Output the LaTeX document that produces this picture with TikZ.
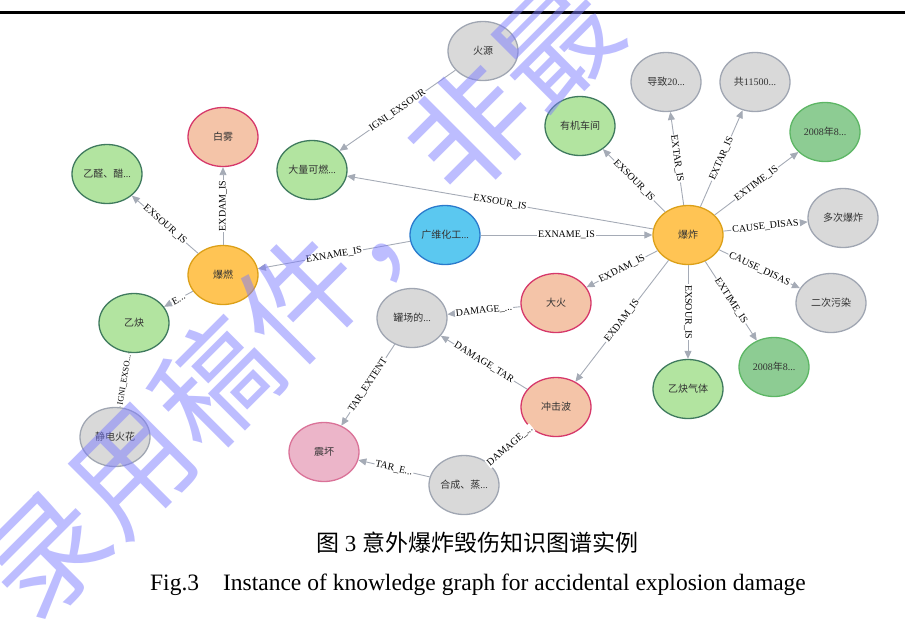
\documentclass[tikz,border=0pt]{standalone}
\usepackage{fontspec}
\setmainfont{Liberation Serif}
\newfontfamily\cjk{Noto Sans CJK SC}
\usetikzlibrary{arrows.meta,shapes.geometric}

\definecolor{grayfill}{HTML}{D9D9D9}
\definecolor{grayline}{HTML}{A0A6B2}
\definecolor{lgfill}{HTML}{B2E4A0}
\definecolor{lgline}{HTML}{3F7A5E}
\definecolor{dgfill}{HTML}{8DCC93}
\definecolor{dgline}{HTML}{5DB665}
\definecolor{sfill}{HTML}{F4C4A8}
\definecolor{sline}{HTML}{D6386A}
\definecolor{pfill}{HTML}{ECB5C9}
\definecolor{pline}{HTML}{DA7298}
\definecolor{ofill}{HTML}{FFC454}
\definecolor{oline}{HTML}{DCA018}
\definecolor{bfill}{HTML}{5BC8F0}
\definecolor{bline}{HTML}{2A7ACC}
\definecolor{relcol}{HTML}{A5ABB6}
\definecolor{wmark}{HTML}{7C7CFF}

\tikzset{
  ent/.style={ellipse, minimum width=70pt, minimum height=59pt, inner sep=0pt,
    line width=1.3pt, text=black!80, font=\cjk\fontsize{10}{10}\selectfont},
  grayent/.style={ent, draw=grayline, fill=grayfill},
  lgent/.style={ent, draw=lgline, fill=lgfill},
  dgent/.style={ent, draw=dgline, fill=dgfill},
  sent/.style={ent, draw=sline, fill=sfill},
  pent/.style={ent, draw=pline, fill=pfill},
  oent/.style={ent, draw=oline, fill=ofill},
  bent/.style={ent, draw=bline, fill=bfill},
  rel/.style={draw=relcol, line width=0.9pt, -{Triangle[length=8pt,width=7pt]}},
  relx/.style={draw=relcol, line width=0.9pt},
  lbl/.style={midway, sloped, fill=white, inner sep=1pt, text=black,
    font=\fontsize{10}{10}\selectfont}
}

\begin{document}
\begin{tikzpicture}[x=1pt,y=-1pt]
\useasboundingbox (0,0) rectangle (905,630);

\draw[line width=3pt] (0,12) -- (905,12);

% entities
\node[grayent] (hy) at (483,51) {火源};
\node[grayent] (dz) at (666,82) {导致\textrm{20...}};
\node[grayent] (gong) at (755,82) {共\textrm{11500...}};
\node[lgent] (yjcj) at (580,126) {有机车间};
\node[dgent] (tma) at (825,132) {\textrm{2008}年\textrm{8...}};
\node[sent] (bw) at (223,137) {白雾};
\node[lgent] (yx) at (107,174) {乙醛、醋\textrm{...}};
\node[lgent] (dlkr) at (312,170) {大量可燃\textrm{...}};
\node[bent] (gw) at (445,235) {广维化工\textrm{...}};
\node[oent] (bz) at (688,235) {爆炸};
\node[grayent] (dcbz) at (843,218) {多次爆炸};
\node[oent] (br) at (223,275) {爆燃};
\node[sent] (dh) at (556,303) {大火};
\node[grayent] (ecwr) at (831,303) {二次污染};
\node[grayent] (gc) at (412,318) {罐场的\textrm{...}};
\node[lgent] (yq) at (134,323) {乙炔};
\node[dgent] (tmb) at (774,367) {\textrm{2008}年\textrm{8...}};
\node[lgent] (yqqt) at (688,389) {乙炔气体};
\node[sent] (cjb) at (556,407) {冲击波};
\node[pent] (zh) at (324,452) {震坏};
\node[grayent] (jd) at (115,437) {静电火花};
\node[grayent] (hc) at (464,485) {合成、蒸\textrm{...}};

% relations
\draw[rel] (hy) -- node[lbl] {IGNI\_EXSOUR} (dlkr);
\draw[rel] (bz) -- node[lbl] {EXSOUR\_IS} (dlkr);
\draw[rel] (bz) -- node[lbl] {EXSOUR\_IS} (yjcj);
\draw[rel] (bz) -- node[lbl] {EXTAR\_IS} (dz);
\draw[rel] (bz) -- node[lbl] {EXTAR\_IS} (gong);
\draw[rel] (bz) -- node[lbl] {EXTIME\_IS} (tma);
\draw[rel] (bz) -- node[lbl] {CAUSE\_DISAS} (dcbz);
\draw[rel] (bz) -- node[lbl] {CAUSE\_DISAS} (ecwr);
\draw[rel] (bz) -- node[lbl] {EXTIME\_IS} (tmb);
\draw[rel] (bz) -- node[lbl] {EXSOUR\_IS} (yqqt);
\draw[rel] (bz) -- node[lbl] {EXDAM\_IS} (cjb);
\draw[rel] (bz) -- node[lbl] {EXDAM\_IS} (dh);
\draw[rel] (gw) -- node[lbl] {EXNAME\_IS} (bz);
\draw[rel] (gw) -- node[lbl] {EXNAME\_IS} (br);
\draw[rel] (br) -- node[lbl] {EXDAM\_IS} (bw);
\draw[rel] (br) -- node[lbl] {EXSOUR\_IS} (yx);
\draw[rel] (br) -- node[lbl] {E...} (yq);
\draw[relx] (jd) -- node[lbl, font=\fontsize{8.5}{8.5}\selectfont] {IGNI\_EXSO...} (yq);
\draw[rel] (dh) -- node[lbl] {DAMAGE\_...} (gc);
\draw[rel] (cjb) -- node[lbl] {DAMAGE\_TAR} (gc);
\draw[relx] (cjb) -- node[lbl] {DAMAGE\_...} (hc);
\draw[rel] (gc) -- node[lbl] {TAR\_EXTENT} (zh);
\draw[rel] (hc) -- node[lbl] {TAR\_E...} (zh);

% caption
\node[font=\fontsize{23}{23}\selectfont] (capcn) at (477,543) {{\cjk 图} 3 {\cjk 意外爆炸毁伤知识图谱实例}};
\node[font=\fontsize{23.5}{23.5}\selectfont] (capen) at (478,585) {Fig.3\hspace{24pt}Instance of knowledge graph for accidental explosion damage};

% watermark
\begin{scope}
\clip (0,0) rectangle (905,630);
\node[rotate=45, text=wmark, opacity=0.5, font=\cjk\fontsize{120}{120}\selectfont] (wm) at (301,299) {录用稿件，非最};
\end{scope}

\end{tikzpicture}
\end{document}
